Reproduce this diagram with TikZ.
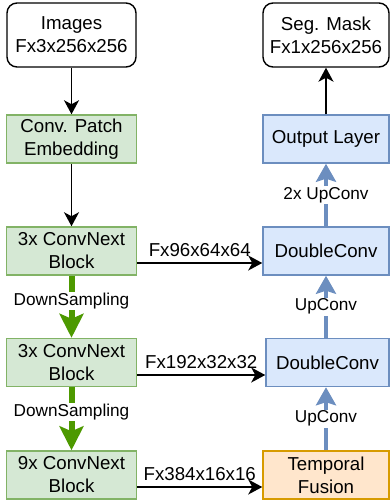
\documentclass[tikz,border=0pt]{standalone}
\usepackage{fontspec}
\setmainfont{Liberation Sans}
\usetikzlibrary{arrows.meta}

\definecolor{encfill}{HTML}{D5E8D4}
\definecolor{encline}{HTML}{82B366}
\definecolor{decfill}{HTML}{DAE8FC}
\definecolor{decline}{HTML}{6C8EBF}
\definecolor{fusefill}{HTML}{FFE6CC}
\definecolor{fuseline}{HTML}{D79B00}
\definecolor{downgreen}{HTML}{4D9900}

\newcommand{\boxfont}{\fontsize{18.7}{23}\selectfont}
\newcommand{\edgefont}{\fontsize{17.2}{20}\selectfont}

\tikzset{
  io/.style={draw, rounded corners=10pt, line width=1.4pt, fill=white,
    minimum width=129pt, minimum height=64pt, inner sep=0pt, align=center, font=\boxfont},
  stage/.style={line width=1.5pt, minimum height=48pt, inner sep=0pt,
    align=center, font=\boxfont},
  enc/.style={stage, draw=encline, fill=encfill, minimum width=130pt},
  dec/.style={stage, draw=decline, fill=decfill, minimum width=126pt},
  fuse/.style={stage, draw=fuseline, fill=fusefill, minimum width=126pt},
  flow/.style={line width=1.5pt, -{Stealth[length=14pt,width=15pt,inset=4pt]}},
  down/.style={draw=downgreen, line width=6pt, -{Stealth[length=24pt,width=24pt,inset=5pt]}},
  up/.style={draw=decline, line width=4.5pt, -{Stealth[length=18pt,width=20pt,inset=3pt]}},
  lbl/.style={fill=white, inner sep=1pt, font=\edgefont},
  size/.style={above=6pt, inner sep=0pt, font=\boxfont}
}

\begin{document}
\begin{tikzpicture}[x=1pt,y=-1pt]
\useasboundingbox (0,0) rectangle (389,501);

% encoder side
\node[io] (img) at (71.5,35) {Images\\Fx3x256x256};
\node[enc] (patch) at (71.5,139) {Conv. Patch\\Embedding};
\node[enc] (blk1) at (71.5,251) {3x ConvNext\\Block};
\node[enc] (blk2) at (71.5,362.5) {3x ConvNext\\Block};
\node[enc] (blk3) at (71.5,475) {9x ConvNext\\Block};

% decoder side
\node[io, minimum width=126pt] (mask) at (326,35) {Seg. Mask\\Fx1x256x256};
\node[dec] (outl) at (326,139) {Output Layer};
\node[dec] (dc1) at (326,251) {DoubleConv};
\node[dec, minimum width=123pt] (dc2) at (327.5,362.5) {DoubleConv};
\node[fuse] (tf) at (326,475) {Temporal\\Fusion};

\draw[flow] (img) -- (patch);
\draw[flow] (patch) -- (blk1);
\draw[flow] (outl) -- (mask);

\draw[down] (blk1) -- node[lbl, pos=0.4] {DownSampling} (blk2);
\draw[down] (blk2) -- node[lbl, pos=0.4] {DownSampling} (blk3);

\draw[up] (tf) -- node[lbl] {UpConv} (tf.north |- dc2.south);
\draw[up] (dc2.north -| dc1.south) -- node[lbl] {UpConv} (dc1);
\draw[up] (dc1) -- node[lbl] {2x UpConv} (outl);

% skip connections
\draw[flow] ([yshift=-12pt]blk1.east) -- ([yshift=-12pt]dc1.west)
  node[midway, size] {Fx96x64x64};
\draw[flow] ([yshift=-12.5pt]blk2.east) -- ([yshift=-12.5pt]dc2.west)
  node[midway, size] {Fx192x32x32};
\draw[flow] ([yshift=-12pt]blk3.east) -- ([yshift=-12pt]tf.west)
  node[midway, size] {Fx384x16x16};

\end{tikzpicture}
\end{document}
